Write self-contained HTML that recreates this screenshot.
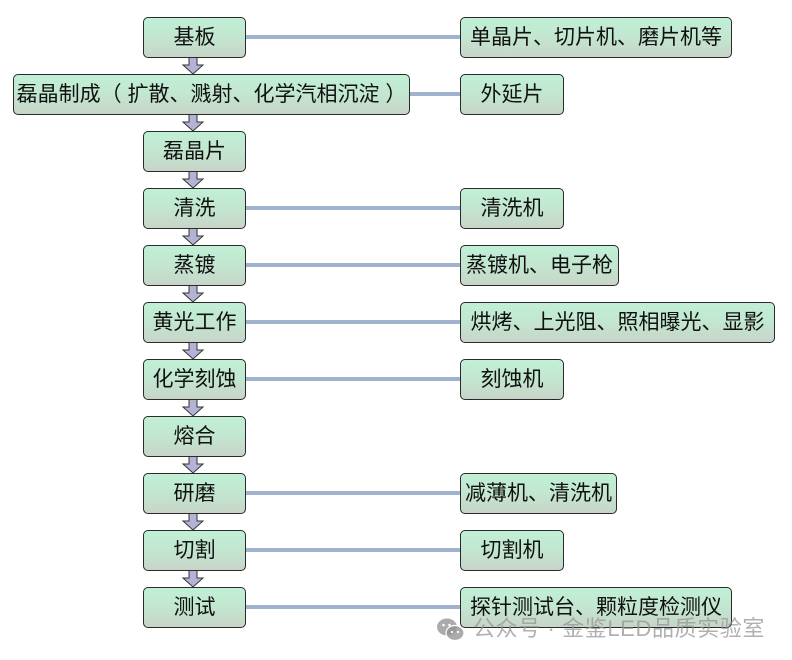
<!DOCTYPE html>
<html>
<head>
<meta charset="utf-8">
<style>
  html,body{margin:0;padding:0;background:#fff;}
  body{width:792px;height:660px;position:relative;overflow:hidden;
    font-family:"Liberation Sans","Noto Sans CJK SC",sans-serif;}
  .box{position:absolute;box-sizing:border-box;height:41px;
    border:1px solid #2a2a2a;border-radius:5px;
    background:linear-gradient(to bottom,#c0f0d6 0%,#c3e6d0 50%,#c7d5c8 100%);
    display:flex;align-items:center;justify-content:center;
    font-size:21px;color:#111;white-space:nowrap;line-height:1;}
  .ln{position:absolute;height:4px;background:#9fb3cf;}
  svg.ar{position:absolute;left:0;top:0;}
  .wm{position:absolute;left:473px;top:615px;font-size:22px;line-height:28px;
    color:rgba(150,150,150,0.75);white-space:nowrap;letter-spacing:0.6px;}
</style>
</head>
<body>

<!-- connectors -->
<div class="ln" style="left:245px;width:215px;top:35px;"></div>
<div class="ln" style="left:409px;width:51px;top:92px;"></div>
<div class="ln" style="left:245px;width:215px;top:206px;"></div>
<div class="ln" style="left:245px;width:215px;top:263px;"></div>
<div class="ln" style="left:245px;width:215px;top:320px;"></div>
<div class="ln" style="left:245px;width:215px;top:377px;"></div>
<div class="ln" style="left:245px;width:215px;top:491px;"></div>
<div class="ln" style="left:245px;width:215px;top:548px;"></div>
<div class="ln" style="left:245px;width:215px;top:605px;"></div>

<!-- arrows -->
<svg class="ar" width="792" height="660">
  <defs>
    <polygon id="a" points="189,0 197,0 197,8 203,8 193,17 183,8 189,8" fill="#b3b3d6" stroke="#333" stroke-width="1"/>
  </defs>
  <use href="#a" y="57"/>
  <use href="#a" y="114"/>
  <use href="#a" y="171"/>
  <use href="#a" y="228"/>
  <use href="#a" y="285"/>
  <use href="#a" y="342"/>
  <use href="#a" y="399"/>
  <use href="#a" y="456"/>
  <use href="#a" y="513"/>
  <use href="#a" y="570"/>
</svg>

<!-- left column -->
<div class="box" style="left:143px;top:17px;width:103px;">基板</div>
<div class="box" style="left:13px;top:74px;width:397px;">磊晶制成（ 扩散、溅射、化学汽相沉淀 ）</div>
<div class="box" style="left:143px;top:131px;width:103px;">磊晶片</div>
<div class="box" style="left:143px;top:188px;width:103px;">清洗</div>
<div class="box" style="left:143px;top:245px;width:103px;">蒸镀</div>
<div class="box" style="left:143px;top:302px;width:103px;">黄光工作</div>
<div class="box" style="left:143px;top:359px;width:103px;">化学刻蚀</div>
<div class="box" style="left:143px;top:416px;width:103px;">熔合</div>
<div class="box" style="left:143px;top:473px;width:103px;">研磨</div>
<div class="box" style="left:143px;top:530px;width:103px;">切割</div>
<div class="box" style="left:143px;top:587px;width:103px;">测试</div>

<!-- right column -->
<div class="box" style="left:460px;top:17px;width:272px;">单晶片、切片机、磨片机等</div>
<div class="box" style="left:460px;top:74px;width:104px;">外延片</div>
<div class="box" style="left:460px;top:188px;width:104px;">清洗机</div>
<div class="box" style="left:460px;top:245px;width:159px;">蒸镀机、电子枪</div>
<div class="box" style="left:460px;top:302px;width:315px;">烘烤、上光阻、照相曝光、显影</div>
<div class="box" style="left:460px;top:359px;width:104px;">刻蚀机</div>
<div class="box" style="left:460px;top:473px;width:157px;">减薄机、清洗机</div>
<div class="box" style="left:460px;top:530px;width:104px;">切割机</div>
<div class="box" style="left:460px;top:587px;width:272px;">探针测试台、颗粒度检测仪</div>

<!-- watermark -->
<svg style="position:absolute;left:436px;top:617px;" width="30" height="26">
  <ellipse cx="11" cy="10" rx="10" ry="8.5" fill="rgba(150,150,150,0.8)"/>
  <ellipse cx="19" cy="16" rx="9" ry="7.5" fill="rgba(150,150,150,0.8)" stroke="#fff" stroke-width="1.2"/>
  <circle cx="7.5" cy="8" r="1.3" fill="#fff"/>
  <circle cx="13.5" cy="8" r="1.3" fill="#fff"/>
  <circle cx="16" cy="15" r="1.1" fill="#fff"/>
  <circle cx="22" cy="15" r="1.1" fill="#fff"/>
</svg>
<div class="wm">公众号 · 金鉴LED品质实验室</div>

</body>
</html>
